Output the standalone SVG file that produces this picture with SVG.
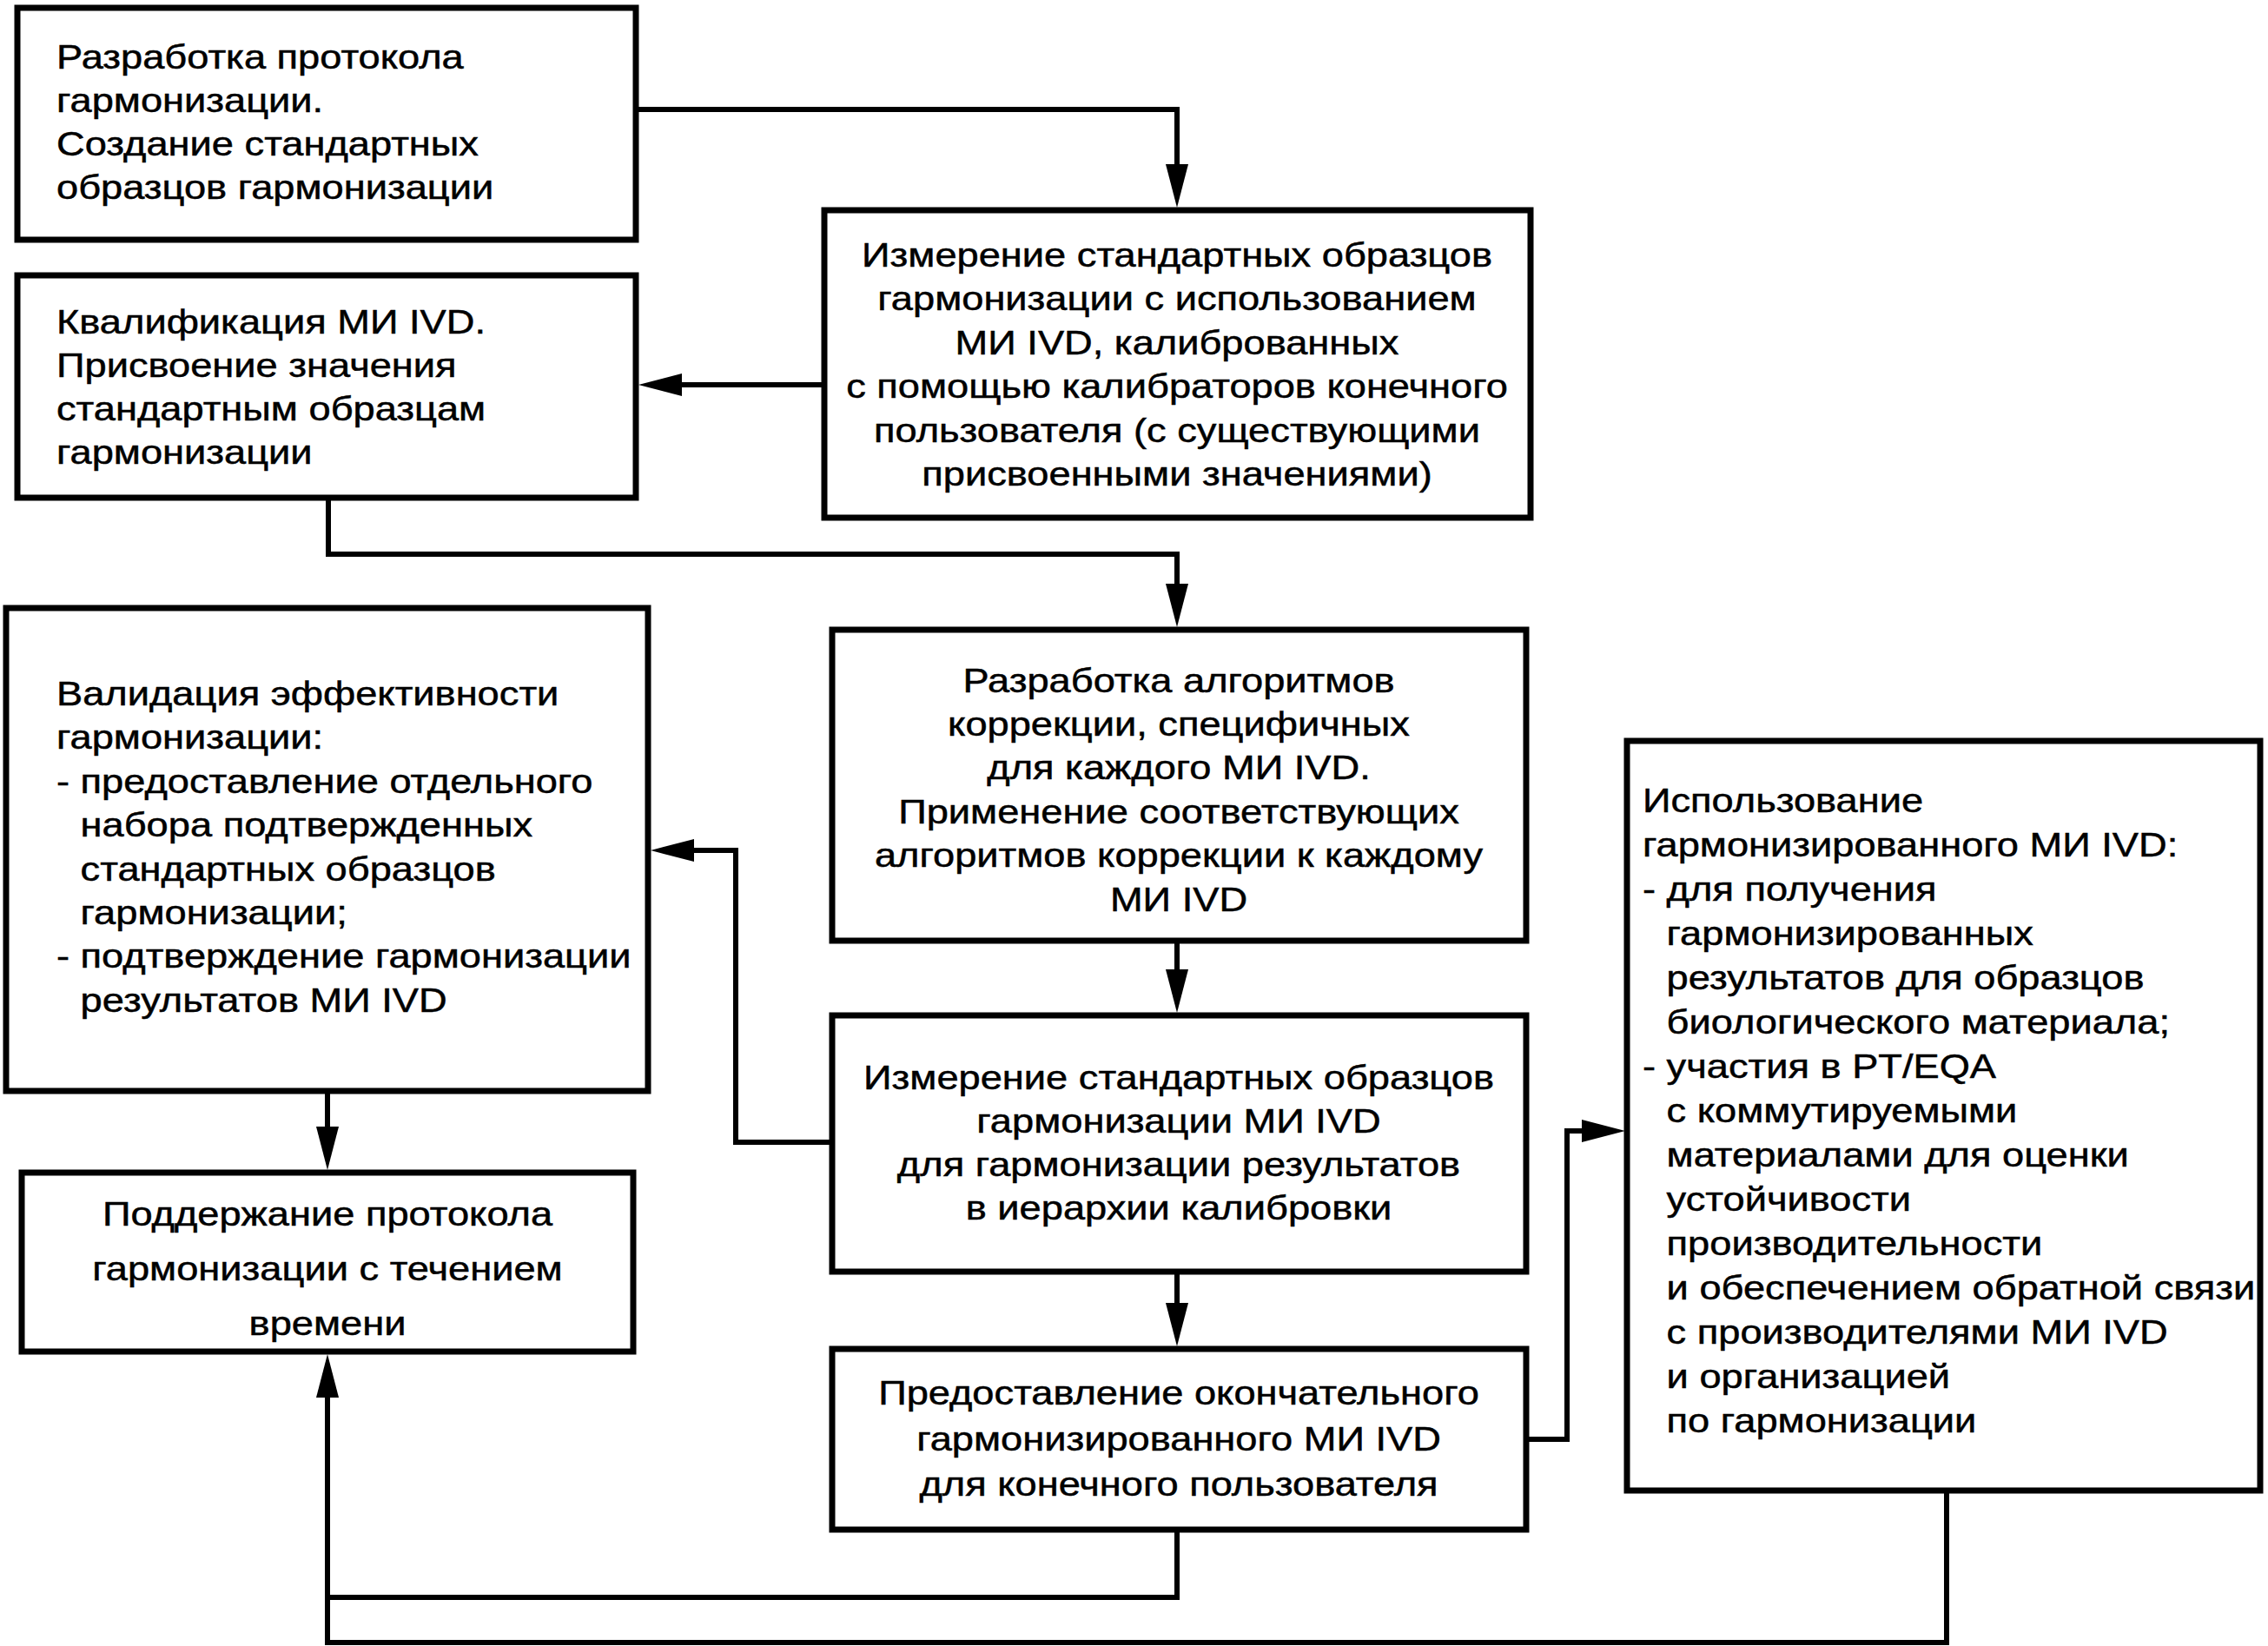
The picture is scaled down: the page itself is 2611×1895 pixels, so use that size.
<svg xmlns="http://www.w3.org/2000/svg" width="2611" height="1895" viewBox="0 0 2611 1895">
<style>
.box{fill:#fff;stroke:#000;stroke-width:7}
.c{fill:none;stroke:#000;stroke-width:6}
text{font-family:"Liberation Sans",Arial,sans-serif;font-size:39px;fill:#000;stroke:#000;stroke-width:0.5}
.m{text-anchor:middle}
</style>
<defs>
<marker id="ah" markerUnits="userSpaceOnUse" markerWidth="50" markerHeight="26" refX="30" refY="13" orient="auto" viewBox="0 0 50 26">
<path d="M0,0 L50,13 L0,26 Z" fill="#000"/>
</marker>
</defs>
<rect width="2611" height="1895" fill="#fff"/>
<g id="connectors">
<path class="c" d="M732,126 H1355 V219" marker-end="url(#ah)"/>
<path class="c" d="M949,443 H755" marker-end="url(#ah)"/>
<path class="c" d="M378,576 V638 H1355 V702" marker-end="url(#ah)"/>
<path class="c" d="M1355,1086 V1146" marker-end="url(#ah)"/>
<path class="c" d="M1355,1467 V1530" marker-end="url(#ah)"/>
<path class="c" d="M955,1315 H847 V979 H769" marker-end="url(#ah)"/>
<path class="c" d="M377,1259 V1327" marker-end="url(#ah)"/>
<path class="c" d="M1355,1764 V1839 H377"/>
<path class="c" d="M2241,1719 V1891 H377 V1579" marker-end="url(#ah)"/>
<path class="c" d="M1760,1657 H1804 V1302 H1851" marker-end="url(#ah)"/>
</g>
<g id="n1">
<rect class="box" x="20" y="9" width="712" height="267"/>
<text transform="translate(65 0) scale(1.16 1)"><tspan x="0" y="79">Разработка протокола</tspan><tspan x="0" y="129">гармонизации.</tspan><tspan x="0" y="179">Создание стандартных</tspan><tspan x="0" y="229">образцов гармонизации</tspan></text>
</g>
<g id="n2">
<rect class="box" x="949" y="242" width="813" height="354"/>
<text class="m" transform="translate(1355 0) scale(1.16 1)"><tspan x="0" y="307">Измерение стандартных образцов</tspan><tspan x="0" y="357">гармонизации с использованием</tspan><tspan x="0" y="408">МИ IVD, калиброванных</tspan><tspan x="0" y="458">с помощью калибраторов конечного</tspan><tspan x="0" y="509">пользователя (с существующими</tspan><tspan x="0" y="559">присвоенными значениями)</tspan></text>
</g>
<g id="n3">
<rect class="box" x="20" y="317" width="712" height="256"/>
<text transform="translate(65 0) scale(1.16 1)"><tspan x="0" y="384">Квалификация МИ IVD.</tspan><tspan x="0" y="434">Присвоение значения</tspan><tspan x="0" y="484">стандартным образцам</tspan><tspan x="0" y="534">гармонизации</tspan></text>
</g>
<g id="n4">
<rect class="box" x="958" y="725" width="799" height="358"/>
<text class="m" transform="translate(1357 0) scale(1.16 1)"><tspan x="0" y="797">Разработка алгоритмов</tspan><tspan x="0" y="847">коррекции, специфичных</tspan><tspan x="0" y="897">для каждого МИ IVD.</tspan><tspan x="0" y="948">Применение соответствующих</tspan><tspan x="0" y="998">алгоритмов коррекции к каждому</tspan><tspan x="0" y="1049">МИ IVD</tspan></text>
</g>
<g id="n5">
<rect class="box" x="7" y="700" width="739" height="556"/>
<text transform="translate(65 0) scale(1.16 1)"><tspan x="0" y="812">Валидация эффективности</tspan><tspan x="0" y="862">гармонизации:</tspan><tspan x="0" y="913">- предоставление отдельного</tspan><tspan x="23.8" y="963">набора подтвержденных</tspan><tspan x="23.8" y="1014">стандартных образцов</tspan><tspan x="23.8" y="1064">гармонизации;</tspan><tspan x="0" y="1114">- подтверждение гармонизации</tspan><tspan x="23.8" y="1165">результатов МИ IVD</tspan></text>
</g>
<g id="n6">
<rect class="box" x="25" y="1350" width="704" height="206"/>
<text class="m" transform="translate(377 0) scale(1.16 1)"><tspan x="0" y="1411">Поддержание протокола</tspan><tspan x="0" y="1474">гармонизации с течением</tspan><tspan x="0" y="1537">времени</tspan></text>
</g>
<g id="n7">
<rect class="box" x="958" y="1169" width="799" height="295"/>
<text class="m" transform="translate(1357 0) scale(1.16 1)"><tspan x="0" y="1254">Измерение стандартных образцов</tspan><tspan x="0" y="1304">гармонизации МИ IVD</tspan><tspan x="0" y="1354">для гармонизации результатов</tspan><tspan x="0" y="1404">в иерархии калибровки</tspan></text>
</g>
<g id="n8">
<rect class="box" x="958" y="1553" width="799" height="208"/>
<text class="m" transform="translate(1357 0) scale(1.16 1)"><tspan x="0" y="1617">Предоставление окончательного</tspan><tspan x="0" y="1670">гармонизированного МИ IVD</tspan><tspan x="0" y="1722">для конечного пользователя</tspan></text>
</g>
<g id="n9">
<rect class="box" x="1873" y="853" width="729" height="863"/>
<text transform="translate(1891 0) scale(1.16 1)"><tspan x="0" y="935">Использование</tspan><tspan x="0" y="986">гармонизированного МИ IVD:</tspan><tspan x="0" y="1037">- для получения</tspan><tspan x="23.8" y="1088">гармонизированных</tspan><tspan x="23.8" y="1139">результатов для образцов</tspan><tspan x="23.8" y="1190">биологического материала;</tspan><tspan x="0" y="1241">- участия в PT/EQA</tspan><tspan x="23.8" y="1292">с коммутируемыми</tspan><tspan x="23.8" y="1343">материалами для оценки</tspan><tspan x="23.8" y="1394">устойчивости</tspan><tspan x="23.8" y="1445">производительности</tspan><tspan x="23.8" y="1496">и обеспечением обратной связи</tspan><tspan x="23.8" y="1547">с производителями МИ IVD</tspan><tspan x="23.8" y="1598">и организацией</tspan><tspan x="23.8" y="1649">по гармонизации</tspan></text>
</g>
</svg>
